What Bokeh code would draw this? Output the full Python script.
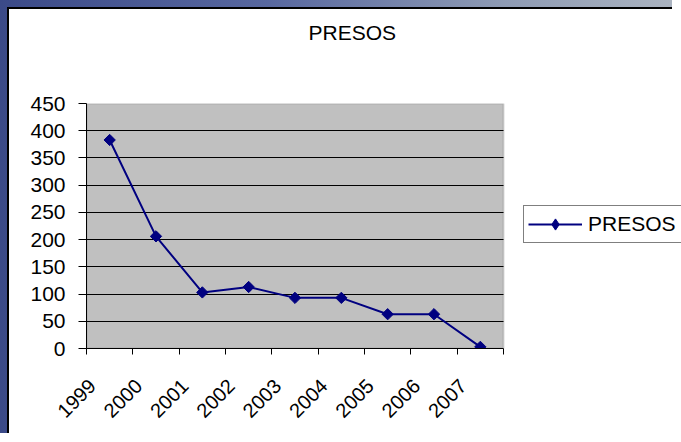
import math
from bokeh.plotting import figure
from bokeh.models import FixedTicker, Legend, LegendItem, ColumnDataSource, Title, BoxAnnotation
from bokeh.embed import file_html
from bokeh.resources import INLINE

# ---- data ----
years = ["1999", "2000", "2001", "2002", "2003", "2004", "2005", "2006", "2007"]
presos = [383, 206, 103, 113, 93, 93, 63, 63, 3]
y_ticks = [0, 50, 100, 150, 200, 250, 300, 350, 400, 450]
series_name = "PRESOS"
title_text = "PRESOS"

FONT = "Liberation Sans"
NAVY = "#000080"

n = len(years)
xs = [i + 0.5 for i in range(n)]
src = ColumnDataSource(data=dict(x=xs, y=presos))

W, H = 672, 433
LEFT, TOP, BOTTOM = 77, 94, 94
PLOT_W = 417                        # width of the grey plot area in px
x_end = n * (W - LEFT) / PLOT_W     # frame runs to the canvas edge

p = figure(width=W, height=H, x_range=(0, x_end), y_range=(y_ticks[0], y_ticks[-1]),
           output_backend="svg", toolbar_location=None,
           min_border_left=LEFT, min_border_right=0,
           min_border_top=TOP, min_border_bottom=BOTTOM)

frame_svg = (
    "data:image/svg+xml;utf8,"
    "<svg xmlns='http://www.w3.org/2000/svg' width='681' height='442'>"
    "<defs><linearGradient id='g'>"
    "<stop offset='0' stop-color='%233b4a88'/>"
    "<stop offset='0.4' stop-color='%235868a0'/>"
    "<stop offset='0.75' stop-color='%238e9bb4'/>"
    "<stop offset='1' stop-color='%23aab3c0'/>"
    "</linearGradient></defs>"
    "<rect width='681' height='442' fill='url(%23g)'/>"
    "<rect x='7' y='7' width='674' height='435' fill='black'/>"
    "</svg>"
)
p.styles = {
    "border-left": "9px solid #3d4c8a",
    "border-top": "9px solid #3d4c8a",
    "border-image-source": f'url("{frame_svg}")',
    "border-image-slice": "9 0 0 9",
    "border-image-repeat": "stretch",
}

p.background_fill_color = "white"
p.border_fill_color = "white"
p.outline_line_color = None

# grey plot area
area = BoxAnnotation(left=0, right=n, bottom=y_ticks[0], top=y_ticks[-1],
                     fill_color="#c0c0c0", fill_alpha=1,
                     line_color="#808080", line_width=2, level="image")
p.add_layout(area)

# titles: spacer (innermost) then real title
p.title.text = ""
spacer = Title(text=" ", text_font_size="1px", standoff=57)
p.add_layout(spacer, "above")
ttl = Title(text=title_text, text_font=FONT, text_font_size="21px",
            text_font_style="normal", text_color="black",
            align="left", offset=222, standoff=0)
p.add_layout(ttl, "above")

# grid
p.xgrid.visible = False
p.ygrid.ticker = FixedTicker(ticks=y_ticks[1:-1])
p.ygrid.grid_line_color = "black"
p.ygrid.grid_line_width = 1
p.ygrid.cross_bounds = (0, n)

# y axis
ya = p.yaxis[0]
ya.ticker = FixedTicker(ticks=y_ticks)
ya.axis_line_color = "black"
ya.major_tick_line_color = "black"
ya.major_tick_in = 0
ya.major_tick_out = 8
ya.minor_tick_line_color = None
ya.major_label_text_font = FONT
ya.major_label_text_font_size = "21px"
ya.major_label_text_color = "black"
ya.major_label_standoff = 13

# x axis: labels at major ticks (no marks), category borders as minor ticks
xa = p.xaxis[0]
label_pos = [i + 0.125 for i in range(n)]
xa.ticker = FixedTicker(ticks=label_pos, minor_ticks=list(range(n + 1)))
xa.major_label_overrides = {pos: yr for pos, yr in zip(label_pos, years)}
xa.bounds = (0, n)
xa.axis_line_color = "black"
xa.major_tick_line_color = None
xa.major_tick_in = 0
xa.major_tick_out = 0
xa.minor_tick_line_color = "black"
xa.minor_tick_in = 0
xa.minor_tick_out = 6
xa.major_label_orientation = math.pi / 4
xa.major_label_text_font = FONT
xa.major_label_text_font_size = "20px"
xa.major_label_text_color = "black"
xa.major_label_standoff = 28

# series
ln = p.line("x", "y", source=src, line_color=NAVY, line_width=2)
mk = p.scatter("x", "y", source=src, marker="square", angle=math.pi / 4, size=8,
               fill_color=NAVY, line_color=NAVY)
# legend-only diamond (no visible point in the plot)
leg_src = ColumnDataSource(data=dict(x=[float("nan")], y=[float("nan")]))
leg_mk = p.scatter("x", "y", source=leg_src, marker="diamond",
                   fill_color=NAVY, line_color=NAVY)

legend = Legend(items=[LegendItem(label=series_name, renderers=[ln, leg_mk])],
                location=(437, 105))
legend.label_text_font = FONT
legend.label_text_font_size = "21px"
legend.label_text_color = "black"
legend.border_line_color = "black"
legend.border_line_width = 1
legend.background_fill_color = "white"
legend.background_fill_alpha = 1
legend.padding = 4
legend.spacing = 0
legend.margin = 0
legend.glyph_width = 54
legend.glyph_height = 28
legend.label_standoff = 6
legend.label_width = 100
p.add_layout(legend, "center")

open("out.html", "w").write(file_html(p, INLINE))
